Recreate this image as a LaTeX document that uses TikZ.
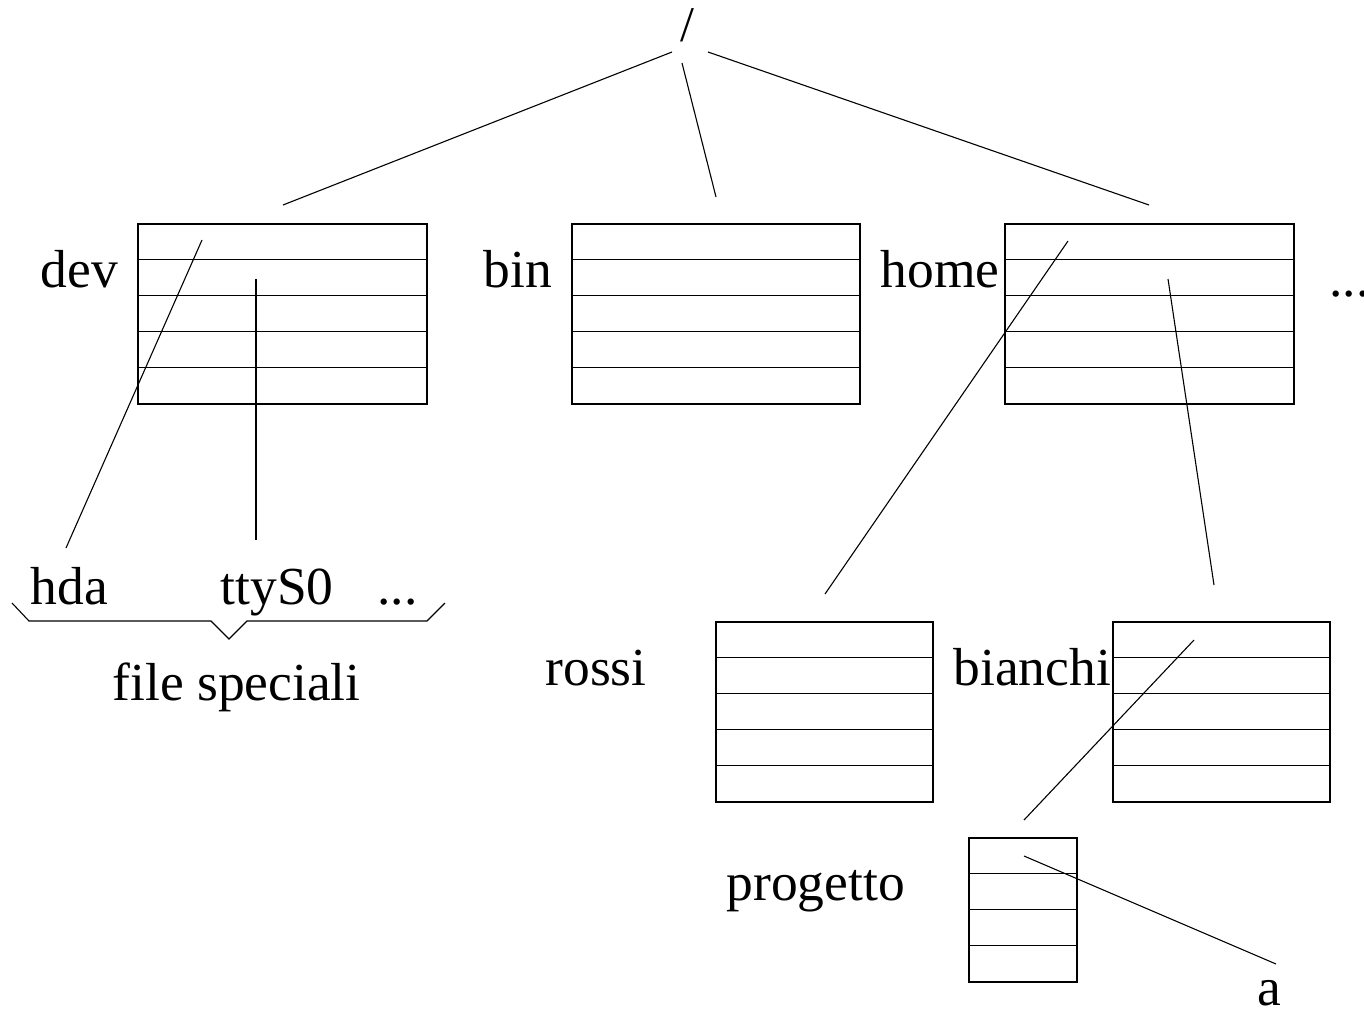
\documentclass[tikz,border=0pt]{standalone}
\usepackage{fontspec}
\setmainfont{Liberation Serif}
\begin{document}
\begin{tikzpicture}[x=1pt,y=-1pt,line width=1.1pt,
  lbl/.style={inner sep=0pt,anchor=base west,font=\fontsize{53.5}{58}\selectfont},
  dirbox/.style={draw,rectangle,inner sep=0pt,line width=1.1pt}]
\useasboundingbox (0,0) rectangle (1364,1014);
% root
\node[inner sep=0pt,font=\fontsize{50}{54}\selectfont] (root) at (687,25) {/};
% boxes
\node[dirbox,minimum width=289pt,minimum height=180pt] (dev) at (282.5,314) {};
\node[dirbox,minimum width=288pt,minimum height=180pt] (bin) at (716,314) {};
\node[dirbox,minimum width=289pt,minimum height=180pt] (home) at (1149.5,314) {};
\node[dirbox,minimum width=217pt,minimum height=180pt] (rossi) at (824.5,712) {};
\node[dirbox,minimum width=217pt,minimum height=180pt] (bianchi) at (1221.5,712) {};
\node[dirbox,minimum width=108pt,minimum height=144pt] (progetto) at (1023,910) {};
\foreach \b/\w in {dev/289,bin/288,home/289,rossi/217,bianchi/217}{
  \foreach \i in {1,...,4}{
    \draw (\b.north west) ++(0,36*\i) -- ++(\w,0);
  }
}
\foreach \i in {1,...,3}{
  \draw (progetto.north west) ++(0,36*\i) -- ++(108,0);
}
% labels
\node[lbl] (ldev) at (40,287) {dev};
\node[lbl] (lbin) at (483,287) {bin};
\node[lbl] (lhome) at (880,287) {home};
\node[lbl] (ldots) at (1329,296) {...};
\node[lbl] (lhda) at (30,604) {hda};
\node[lbl] (ltty) at (220,604) {ttyS0};
\node[lbl] (ldots2) at (377,604) {...};
\node[lbl] (lfs) at (112,700) {file speciali};
\node[lbl] (lrossi) at (545,685) {rossi};
\node[lbl] (lbianchi) at (953,685) {bianchi};
\node[lbl] (lprog) at (726,900) {progetto};
\node[lbl] (la) at (1257,1005) {a};
% connector end points
\coordinate (r1) at (672,52);
\coordinate (r2) at (682,63);
\coordinate (r3) at (708,52);
\coordinate (devtop) at (283,205);
\coordinate (bintop) at (716,197);
\coordinate (hometop) at (1149,205);
\coordinate (d1) at (202,240);
\coordinate (d1e) at (66,548);
\coordinate (d2) at (256,279);
\coordinate (d2e) at (256,540);
\coordinate (h1) at (1068,241);
\coordinate (h1e) at (825,594);
\coordinate (h2) at (1168,279);
\coordinate (h2e) at (1214,585);
\coordinate (b1) at (1194,640);
\coordinate (b1e) at (1024,820);
\coordinate (p1) at (1024,856);
\coordinate (p1e) at (1276,964);
\draw (r1) -- (devtop);
\draw (r2) -- (bintop);
\draw (r3) -- (hometop);
\draw (d1) -- (d1e);
\draw (d2) -- (d2e);
\draw (h1) -- (h1e);
\draw (h2) -- (h2e);
\draw (b1) -- (b1e);
\draw (p1) -- (p1e);
% brace
\coordinate (brL) at (12,603);
\coordinate (brR) at (445,603);
\draw (brL) -- (29,621) -- (211,621) -- (229,639) -- (247,621) -- (427,621) -- (brR);
\end{tikzpicture}
\end{document}
